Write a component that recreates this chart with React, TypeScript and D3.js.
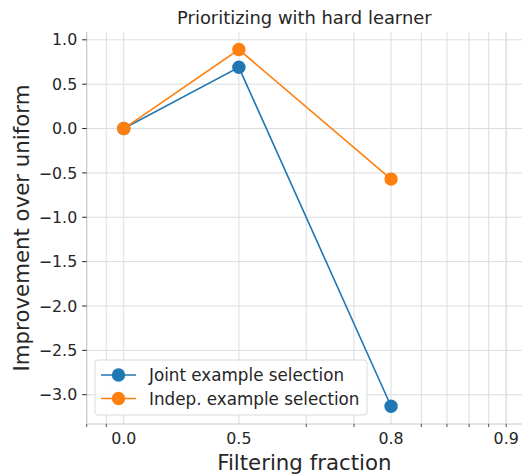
import React from "react";
import * as d3 from "d3";

const fractions = [0.0, 0.5, 0.8];
const jointValues = [0.0, 0.69, -3.13];
const indepValues = [0.0, 0.89, -0.57];
const seriesNames = ["Joint example selection", "Indep. example selection"];
const seriesColors = ["#1f77b4", "#ff7f0e"];
const xMajorTicks = [0.0, 0.5, 0.8, 0.9];
const xMajorLabels = ["0.0", "0.5", "0.8", "0.9"];
// minor ticks expressed in 1/(1-x) space
const xMinorInv = [0.8, 0.9, 3, 4, 6, 7, 8, 9, 10];
const yTicks = [-3.0, -2.5, -2.0, -1.5, -1.0, -0.5, 0.0, 0.5, 1.0];

const W = 522;
const H = 475;
const L = 86.7, R = 522, T = 32, B = 424;
const FONT = "DejaVu Sans, sans-serif";
const TXT = "#262626";

const inv = (f: number) => 1 / (1 - f);
const xLog = d3.scaleLog().domain([0.8, 11]).range([L, R]);
const x = (f: number) => xLog(inv(f));
const y = d3.scaleLinear().domain([-3.33, 1.088]).range([B, T]);

const fmtY = (v: number) => {
  const s = Math.abs(v).toFixed(1);
  return v < 0 ? "\u2212" + s : s;
};

export default function App() {
  const line = d3
    .line<[number, number]>()
    .x((d) => x(d[0]))
    .y((d) => y(d[1]));
  const series = [jointValues, indepValues].map((vals) =>
    fractions.map((f, i) => [f, vals[i]] as [number, number])
  );
  const gridX = [...xMajorTicks.map((t) => x(t)), ...xMinorInv.map((v) => xLog(v))];

  return (
    <svg
      width={W}
      height={H}
      style={{ position: "absolute", left: 0, top: 0, background: "#fff" }}
      fontFamily={FONT}
    >
      {/* grid */}
      <g stroke="#dcdcdc" strokeWidth={1}>
        {gridX.map((gx, i) => (
          <line key={"gx" + i} x1={gx} x2={gx} y1={T} y2={B} />
        ))}
        {yTicks.map((t, i) => (
          <line key={"gy" + i} x1={L} x2={R} y1={y(t)} y2={y(t)} />
        ))}
      </g>
      {/* spines */}
      <g stroke="#cccccc" strokeWidth={1.2}>
        <line x1={L} x2={L} y1={T} y2={B} />
        <line x1={L} x2={R} y1={B} y2={B} />
      </g>
      {/* y ticks */}
      <g>
        {yTicks.map((t, i) => (
          <g key={"yt" + i}>
            <line x1={L - 4.5} x2={L} y1={y(t)} y2={y(t)} stroke={TXT} strokeWidth={1} />
            <text x={L - 9.5} y={y(t)} dy="0.36em" textAnchor="end" fontSize={15.8} fill={TXT}>
              {fmtY(t)}
            </text>
          </g>
        ))}
      </g>
      {/* x ticks */}
      <g>
        {xMinorInv.map((v, i) => (
          <line key={"xm" + i} x1={xLog(v)} x2={xLog(v)} y1={B} y2={B + 3} stroke={TXT} strokeWidth={0.8} />
        ))}
        {xMajorTicks.map((t, i) => (
          <text key={"xt" + i} x={x(t)} y={B + 19.5} textAnchor="middle" fontSize={15.8} fill={TXT}>
            {xMajorLabels[i]}
          </text>
        ))}
      </g>
      {/* series */}
      {series.map((s, si) => (
        <g key={"s" + si}>
          <path d={line(s) || ""} fill="none" stroke={seriesColors[si]} strokeWidth={1.6} />
          {s.map((d, i) => (
            <circle key={i} cx={x(d[0])} cy={y(d[1])} r={6.7} fill={seriesColors[si]} />
          ))}
        </g>
      ))}
      {/* title */}
      <text x={(L + R) / 2} y={24} textAnchor="middle" fontSize={17.9} fill={TXT}>
        Prioritizing with hard learner
      </text>
      {/* axis labels */}
      <text x={(L + R) / 2} y={469.5} textAnchor="middle" fontSize={21.3} fill={TXT}>
        Filtering fraction
      </text>
      <text
        transform={`translate(28.5,${(T + B) / 2}) rotate(-90)`}
        textAnchor="middle"
        fontSize={21.3}
        fill={TXT}
      >
        Improvement over uniform
      </text>
      {/* legend */}
      <g>
        <rect x={95} y={360} width={272} height={55} rx={3} fill="#fff" fillOpacity={0.85} stroke="#d9d9d9" strokeWidth={1} />
        {seriesNames.map((n, i) => (
          <g key={"lg" + i} transform={`translate(0,${375 + i * 23.5})`}>
            <line x1={101} x2={136} y1={0} y2={0} stroke={seriesColors[i]} strokeWidth={1.6} />
            <circle cx={118.5} cy={0} r={6.7} fill={seriesColors[i]} />
            <text x={149} y={0} dy="0.36em" fontSize={16.75} fill={TXT}>
              {n}
            </text>
          </g>
        ))}
      </g>
    </svg>
  );
}
